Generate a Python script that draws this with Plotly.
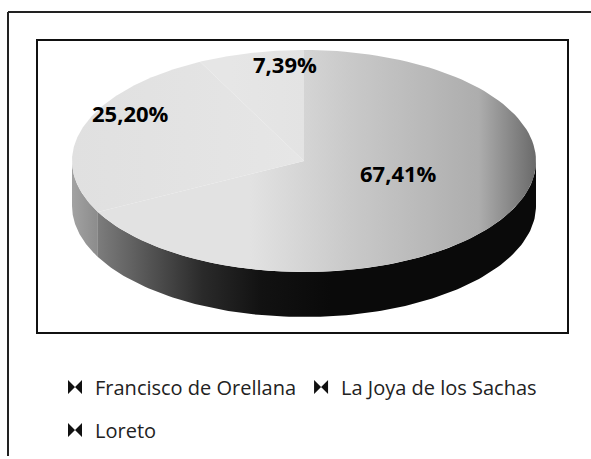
import numpy as np
import plotly.graph_objects as go

# ---- data ----
categories = ["Francisco de Orellana", "La Joya de los Sachas", "Loreto"]
values = [67.41, 25.20, 7.39]

# ---- layout / style (axes ranges equal the page pixel grid) ----
W, H = 591, 459
CX, CY, RX, RY, DEPTH = 304, 161, 232, 111, 45
label_xy = [(398, 173), (130, 113), (285, 64)]
top_colors = [
    [[0, "#e2e2e2"], [0.35, "#c9c9c9"], [0.8, "#adadad"], [1, "#6a6a6a"]],
    [[0, "#e0e0e0"], [1, "#e6e6e6"]],
    [[0, "#e6e6e6"], [1, "#e2e2e2"]],
]
top_grad = [(250, 536), (72, 300), (230, 330)]
side_colors = [
    [[0, "#7c7c7c"], [0.45, "#2a2a2a"], [0.7, "#121212"], [1, "#0a0a0a"]],
    [[0, "#a2a2a2"], [1, "#8a8a8a"]],
    [[0, "#8a8a8a"], [1, "#707070"]],
]
side_grad = [(98, 330), (72, 100), (72, 100)]

fig = go.Figure()

total = sum(values)
bounds = np.concatenate([[0], np.cumsum(values)]) / total * 2 * np.pi


def arc(a0, a1, n=120):
    t = np.linspace(a0, a1, n)
    return CX + RX * np.sin(t), CY - RY * np.cos(t)


# sides (front half only: angles between 90 and 270 degrees, clockwise from top)
for i, v in enumerate(values):
    a0, a1 = bounds[i], bounds[i + 1]
    lo, hi = max(a0, np.pi / 2), min(a1, 3 * np.pi / 2)
    if lo >= hi:
        continue
    xs, ys = arc(lo, hi)
    px = np.concatenate([xs, xs[::-1], xs[:1]])
    py = np.concatenate([ys, ys[::-1] + DEPTH, ys[:1]])
    fig.add_trace(go.Scatter(
        x=px, y=py, mode="lines", fill="toself", line=dict(width=0),
        fillgradient=dict(type="horizontal", colorscale=side_colors[i],
                          start=side_grad[i][0], stop=side_grad[i][1]),
        hoverinfo="skip", showlegend=False))

# top faces
for i, v in enumerate(values):
    a0, a1 = bounds[i], bounds[i + 1]
    xs, ys = arc(a0, a1)
    px = np.concatenate([[CX], xs, [CX]])
    py = np.concatenate([[CY], ys, [CY]])
    fig.add_trace(go.Scatter(
        x=px, y=py, mode="lines", fill="toself", line=dict(width=0),
        fillgradient=dict(type="horizontal", colorscale=top_colors[i],
                          start=top_grad[i][0], stop=top_grad[i][1]),
        hoverinfo="skip", showlegend=False))

# data labels
for i, v in enumerate(values):
    fig.add_annotation(
        x=label_xy[i][0], y=label_xy[i][1], xref="x", yref="y",
        text=f"{v:.2f}%".replace(".", ","), showarrow=False,
        font=dict(family="Open Sans", size=22, color="#000000", weight="bold"))

# legend entries
for i, name in enumerate(categories):
    fig.add_trace(go.Scatter(
        x=[None], y=[None], mode="markers", name=name,
        marker=dict(symbol="bowtie", size=14, color="#111111"),
        legend="legend" if i < 2 else "legend2"))

# frames
fig.add_shape(type="line", x0=8, y0=12, x1=W, y1=12, xref="x", yref="y",
              line=dict(color="#222222", width=2))
fig.add_shape(type="line", x0=8, y0=12, x1=8, y1=456, xref="x", yref="y",
              line=dict(color="#222222", width=2))
fig.add_shape(type="rect", x0=37, y0=40, x1=568, y1=333, xref="x", yref="y",
              line=dict(color="#111111", width=2))

legend_style = dict(orientation="h", xanchor="left", yanchor="middle",
                    font=dict(family="Open Sans", size=20, color="#222222"),
                    bgcolor="rgba(0,0,0,0)", itemwidth=30, tracegroupgap=0,
                    borderwidth=0)

fig.update_layout(
    width=W, height=H,
    margin=dict(l=0, r=0, t=0, b=0),
    paper_bgcolor="white", plot_bgcolor="white",
    xaxis=dict(range=[0, W], visible=False, fixedrange=True),
    yaxis=dict(range=[H, 0], visible=False, fixedrange=True),
    legend=dict(x=55 / W, y=1 - 387 / H, **legend_style),
    legend2=dict(x=55 / W, y=1 - 430 / H, **legend_style),
    hovermode=False,
)

# remove the default page margin so the figure fills the window exactly
page_fix = ("document.documentElement.style.overflow='hidden';"
            "document.body.style.margin='0';"
            "document.body.style.overflow='hidden';")

fig.write_html("out.html", post_script=page_fix,
               config={"displayModeBar": False, "staticPlot": True})
